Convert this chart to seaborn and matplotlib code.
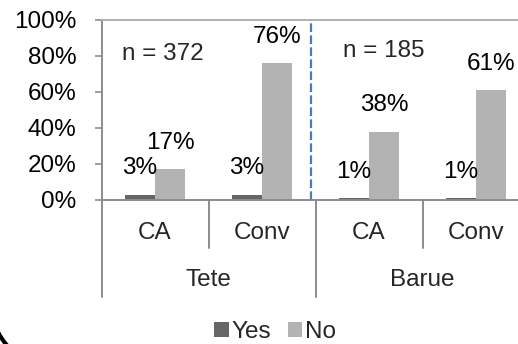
import matplotlib
matplotlib.use("Agg")
import matplotlib.pyplot as plt
import matplotlib.transforms as mtransforms
from matplotlib.patches import Patch, Arc
import pandas as pd
import seaborn as sns

# Share of farmers answering Yes / No, per site and practice
sites = ["Tete", "Tete", "Barue", "Barue"]
practices = ["CA", "Conv", "CA", "Conv"]
yes_pct = [3, 3, 1, 1]
no_pct = [17, 76, 38, 61]
answers = ["Yes", "No"]
sample_sizes = ["n = 372", "n = 185"]
y_ticks = [0, 20, 40, 60, 80, 100]

sns.set_theme(style="white")
plt.rcParams["font.family"] = ["Liberation Sans", "DejaVu Sans"]

FS = 17.5
GRAY_AXIS = "#8c8c8c"
COLORS = {"Yes": "#666666", "No": "#b3b3b3"}

keys = [f"{s} {p}" for s, p in zip(sites, practices)]
df = pd.DataFrame({
    "group": keys * 2,
    "answer": ["Yes"] * len(keys) + ["No"] * len(keys),
    "pct": yes_pct + no_pct,
})

W, H, DPI = 518, 344, 100
fig = plt.figure(figsize=(W / DPI, H / DPI), dpi=DPI)
ax = fig.add_axes([101.5 / W, 144 / H, 428 / W, 180 / H])

sns.barplot(data=df, x="group", y="pct", hue="answer", order=keys,
            hue_order=answers, palette=COLORS, saturation=1, width=0.56,
            edgecolor="none", linewidth=0, legend=False, ax=ax)

ax.set_xlim(-0.5, 3.5)
ax.set_ylim(0, 100)
ax.set_yticks(y_ticks)
ax.set_yticklabels([f"{t}%" for t in y_ticks], fontsize=FS, color="black")
ax.set_xticks([])
ax.set_xlabel("")
ax.set_ylabel("")
ax.tick_params(axis="y", left=True, length=5, width=1.2, color=GRAY_AXIS,
               pad=13)
for side in ["left", "bottom", "top", "right"]:
    ax.spines[side].set_color(GRAY_AXIS if side != "top" else "#b0b0b0")
    ax.spines[side].set_linewidth(1.4)

# value labels above each bar
for container, vals in zip(ax.containers, [yes_pct, no_pct]):
    for bar, v in zip(container, vals):
        ax.annotate(f"{v}%", (bar.get_x() + bar.get_width() / 2, bar.get_height()),
                    xytext=(0, 19), textcoords="offset points",
                    ha="center", va="center", fontsize=FS, color="black")

# sample sizes per site
ax.text(0.07, 81, sample_sizes[0], ha="center", va="center", fontsize=FS)
ax.text(2.14, 83, sample_sizes[1], ha="center", va="center", fontsize=FS)

# divider between the two sites
ax.plot([1.458, 1.458], [0, 100], color="#4a7ebb", lw=1.6,
        dashes=(3.9, 1.5), clip_on=False)

# two-level category axis
trans = mtransforms.blended_transform_factory(ax.transData, ax.transAxes)
for xb, depth in [(-0.5, -0.54), (0.5, -0.267), (1.5, -0.54), (2.5, -0.267),
                  (3.5, -0.54)]:
    ax.plot([xb, xb], [0, depth], color=GRAY_AXIS, lw=1.4,
            transform=trans, clip_on=False)
for i, p in enumerate(practices):
    ax.text(i, -0.182, p, transform=trans, ha="center", va="center",
            fontsize=FS)
for center, s in [(0.5, sites[0]), (2.5, sites[2])]:
    ax.text(center, -0.447, s, transform=trans, ha="center", va="center",
            fontsize=FS)

handles = [Patch(facecolor=COLORS[a], edgecolor="none", label=a) for a in answers]
fig.legend(handles=handles, loc="center", bbox_to_anchor=(275 / W, 12 / H),
           ncol=2, frameon=False, fontsize=FS, handlelength=0.6,
           handleheight=0.6, handletextpad=0.1, columnspacing=0.7,
           borderpad=0)

# rounded corners of the outer frame (inches from the lower-left corner)
for cx, t1, t2 in [(0.55, 180, 270), (4.86, 270, 360)]:
    fig.patches.append(Arc((cx, 0.41), 1.28, 1.28, theta1=t1, theta2=t2,
                           transform=fig.dpi_scale_trans, color="black",
                           linewidth=3, clip_on=False))

fig.savefig("out.png", dpi=DPI)
